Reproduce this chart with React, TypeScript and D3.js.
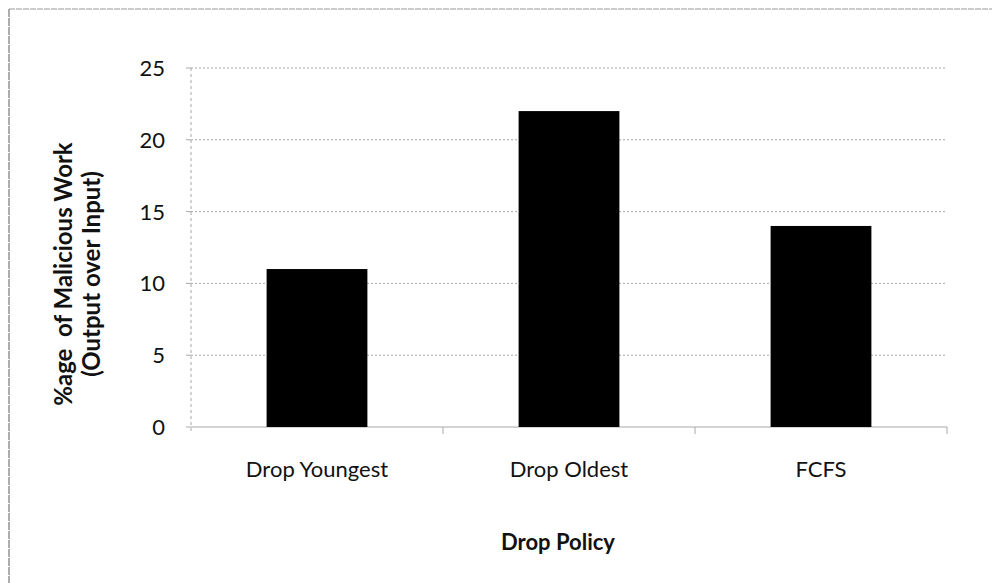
import React from "react";
import * as d3 from "d3";

const categories = ["Drop Youngest", "Drop Oldest", "FCFS"];
const values = [11, 22, 14];
const yTicks = [0, 5, 10, 15, 20, 25];
const yLabelLines = ["%age  of Malicious Work", "(Output over Input)"];
const xTitle = "Drop Policy";

export default function App() {
  const W = 992, H = 583;
  const left = 191, right = 947, top = 68, bottom = 427;
  const x = d3.scaleBand<string>().domain(categories).range([left, right]).paddingInner(0.6).paddingOuter(0.3);
  const xc = d3.scaleBand<string>().domain(categories).range([left, right]);
  const y = d3.scaleLinear().domain([0, 25]).range([bottom, top]);
  const font = "Lato, 'Open Sans', sans-serif";
  const gridColor = "#a8a8a8";
  return (
    <svg width={W} height={H} style={{ position: "absolute", left: 0, top: 0, background: "#fff" }} fontFamily={font}>
      <rect x={0} y={0} width={W} height={H} fill="#fff" />
      <line x1={9} y1={9} x2={W} y2={9} stroke="#999" strokeWidth={1} strokeDasharray="6 1" />
      <line x1={9} y1={9} x2={9} y2={H} stroke="#777" strokeWidth={1.2} strokeDasharray="8 1" />
      {yTicks.map((t) => (
        <g key={t}>
          {t > 0 && (
            <line x1={left} x2={right} y1={y(t)} y2={y(t)} stroke={gridColor} strokeWidth={1} strokeDasharray="2 2" />
          )}
          <line x1={left - 5} x2={left} y1={y(t)} y2={y(t)} stroke={gridColor} strokeWidth={1} />
          <text x={165} y={y(t) + 8} textAnchor="end" fontSize={22} fill="#111">
            {t}
          </text>
        </g>
      ))}
      <line x1={left} x2={left} y1={top} y2={bottom + 6} stroke={gridColor} strokeWidth={1} strokeDasharray="3 3" />
      <line x1={left} x2={right} y1={bottom} y2={bottom} stroke={gridColor} strokeWidth={1} />
      {categories.map((c, i) => (
        <line key={"t" + i} x1={(xc(c) as number) + xc.bandwidth()} x2={(xc(c) as number) + xc.bandwidth()} y1={bottom} y2={bottom + 7} stroke={gridColor} strokeWidth={1} />
      ))}
      {categories.map((c, i) => (
        <rect key={c} x={x(c)} y={y(values[i])} width={x.bandwidth()} height={bottom - y(values[i])} fill="#000" />
      ))}
      {categories.map((c) => (
        <text key={"l" + c} x={(xc(c) as number) + xc.bandwidth() / 2} y={477} textAnchor="middle" fontSize={22} fill="#111">
          {c}
        </text>
      ))}
      <text x={558} y={550} textAnchor="middle" fontSize={22} fontWeight="bold" fill="#111">
        {xTitle}
      </text>
      <g transform={`translate(78, 274) rotate(-90)`}>
        {yLabelLines.map((l, i) => (
          <text key={i} x={0} y={(i - 0.5) * 28} dy="0.35em" textAnchor="middle" fontSize={24} fontWeight="bold" fill="#111" style={{ whiteSpace: "pre" }}>
            {l}
          </text>
        ))}
      </g>
    </svg>
  );
}
